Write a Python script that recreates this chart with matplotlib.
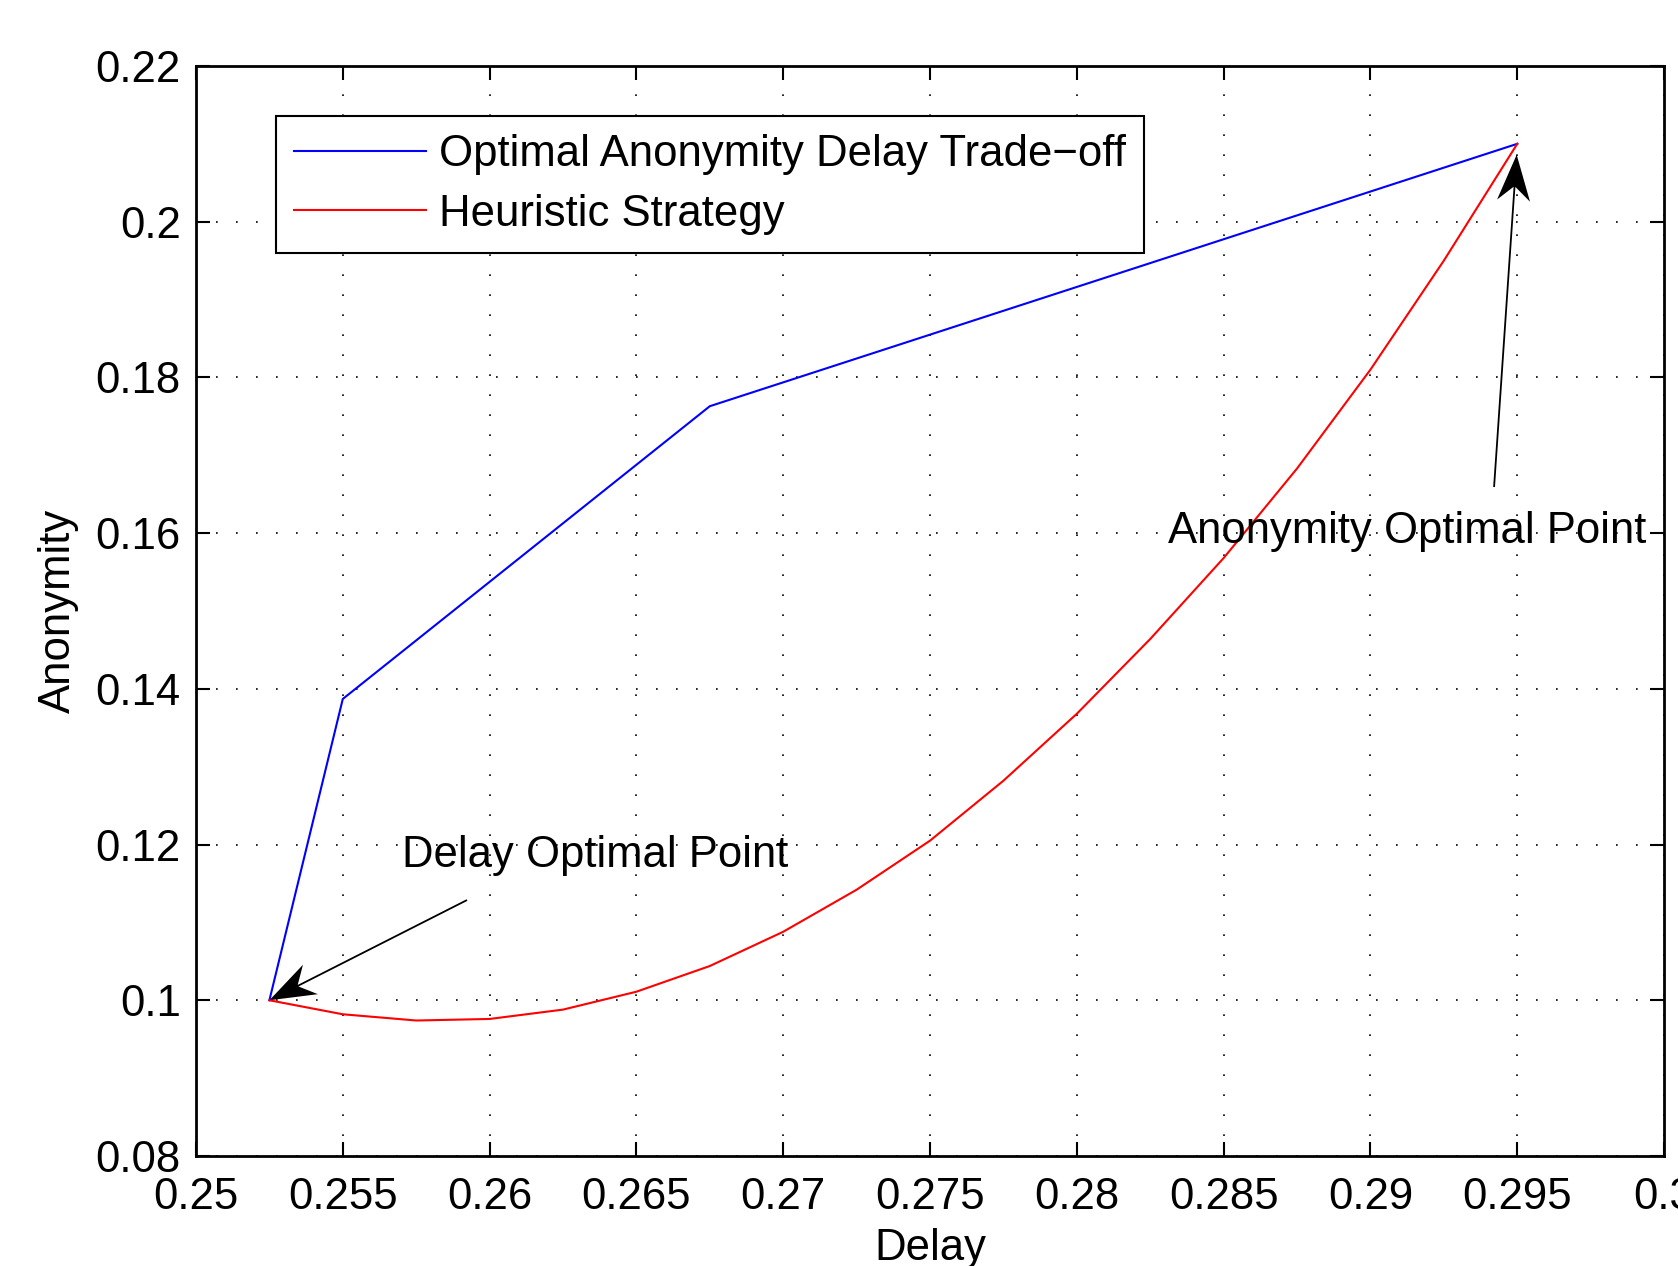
import numpy as np
import matplotlib
matplotlib.use('Agg')
import matplotlib.pyplot as plt
from matplotlib.patches import FancyArrow
from matplotlib.transforms import IdentityTransform

plt.rcParams['font.family'] = ['Liberation Sans', 'DejaVu Sans']

# data
opt_delay = [0.2525, 0.255, 0.2675, 0.295]
opt_anon = [0.1000, 0.1387, 0.1763, 0.2100]

heur_delay = [0.2525, 0.255, 0.2575, 0.26, 0.2625, 0.265, 0.2675, 0.27, 0.2725,
              0.275, 0.2775, 0.28, 0.2825, 0.285, 0.2875, 0.29, 0.2925, 0.295]
heur_anon = [0.1000, 0.0982, 0.0974, 0.0976, 0.0988, 0.1011, 0.1044, 0.1088, 0.1142,
             0.1205, 0.1282, 0.1368, 0.1464, 0.1568, 0.1683, 0.1810, 0.1950, 0.2100]

xticks = [0.25, 0.255, 0.26, 0.265, 0.27, 0.275, 0.28, 0.285, 0.29, 0.295, 0.3]
xticklabels = ['0.25', '0.255', '0.26', '0.265', '0.27', '0.275', '0.28', '0.285', '0.29', '0.295', '0.3']
yticks = [0.08, 0.1, 0.12, 0.14, 0.16, 0.18, 0.2, 0.22]
yticklabels = ['0.08', '0.1', '0.12', '0.14', '0.16', '0.18', '0.2', '0.22']

labels = ['Optimal Anonymity Delay Trade\u2212off', 'Heuristic Strategy']

# annotation anchors (text position, arrow tail, arrow head)
delay_pt_text = (0.2570, 0.1171)
delay_pt_tail = (0.25923, 0.11287)
delay_pt_head = (0.2525, 0.1000)
anon_pt_text = (0.28311, 0.15873)
anon_pt_tail = (0.29421, 0.16592)
anon_pt_head = (0.29498, 0.2086)

fs = 31.5

fig = plt.figure(figsize=(16.78, 12.66), dpi=100)
ax = fig.add_axes([0.1168, 0.0869, 0.8749, 0.8610])

ax.plot(opt_delay, opt_anon, color='#0000ff', lw=1.5, label=labels[0])
ax.plot(heur_delay, heur_anon, color='#ff0000', lw=1.5, label=labels[1])

ax.set_xlim(0.25, 0.3)
ax.set_ylim(0.08, 0.22)
ax.set_xticks(xticks)
ax.set_xticklabels(xticklabels)
ax.set_yticks(yticks)
ax.set_yticklabels(yticklabels)

ax.grid(True, color='black', linestyle=(0, (1, 11)), linewidth=1.2)
ax.set_axisbelow(True)
ax.tick_params(direction='in', top=True, right=True, length=10, width=1.5,
               labelsize=fs, pad=15)
ax.tick_params(axis='y', pad=11)
for sp in ax.spines.values():
    sp.set_linewidth(2)

ax.set_xlabel('Delay', fontsize=fs, labelpad=7)
ax.set_ylabel('Anonymity', fontsize=fs, labelpad=12)

leg = ax.legend(loc='upper left', bbox_to_anchor=(0.0545, 0.9541), borderaxespad=0,
                fontsize=fs, fancybox=False, edgecolor='black', framealpha=1,
                handlelength=3.0, handletextpad=0.3, borderpad=0.42, labelspacing=0.42)
leg.get_frame().set_linewidth(1.5)

# MATLAB-like arrows with a swept-back head, drawn in pixel space
for tail, head in [(delay_pt_tail, delay_pt_head), (anon_pt_tail, anon_pt_head)]:
    p0 = ax.transData.transform(tail)
    p1 = ax.transData.transform(head)
    arr = FancyArrow(p0[0], p0[1], p1[0] - p0[0], p1[1] - p0[1], width=1.8,
                     head_width=33, head_length=46, overhang=0.3,
                     length_includes_head=True, transform=IdentityTransform(),
                     color='black', lw=0)
    ax.add_artist(arr)

ax.text(delay_pt_text[0], delay_pt_text[1], 'Delay Optimal Point', fontsize=31.4,
        va='baseline', ha='left')
ax.text(anon_pt_text[0], anon_pt_text[1], 'Anonymity Optimal Point', fontsize=31.4,
        va='baseline', ha='left')

fig.savefig('out.png', dpi=100)
